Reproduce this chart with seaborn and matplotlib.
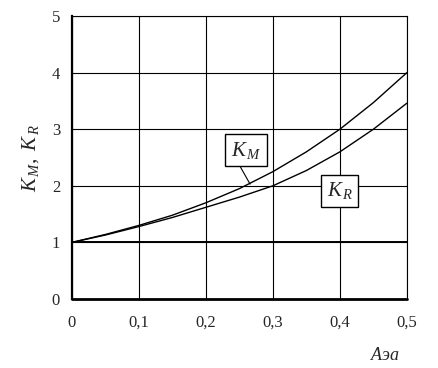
import matplotlib
matplotlib.use('Agg')
import matplotlib.pyplot as plt
import pandas as pd
import seaborn as sns

# Aэа values and curves
aea = [0.0, 0.05, 0.1, 0.15, 0.2, 0.25, 0.3, 0.35, 0.4, 0.45, 0.5]
k_m = [1.0, 1.14, 1.30, 1.48, 1.70, 1.95, 2.25, 2.60, 3.00, 3.47, 4.00]
k_r = [1.0, 1.13, 1.28, 1.44, 1.62, 1.80, 2.00, 2.27, 2.60, 3.00, 3.46]
x_ticks = [0, 0.1, 0.2, 0.3, 0.4, 0.5]
x_tick_labels = ['0', '0,1', '0,2', '0,3', '0,4', '0,5']
y_ticks = [0, 1, 2, 3, 4, 5]

sns.set_style('white')
plt.rcParams['font.family'] = ['Liberation Serif', 'DejaVu Serif']
plt.rcParams['mathtext.fontset'] = 'custom'
plt.rcParams['mathtext.it'] = 'Liberation Serif:italic'
plt.rcParams['mathtext.rm'] = 'Liberation Serif'

df = pd.DataFrame({'aea': aea, 'K_M': k_m, 'K_R': k_r})

fig = plt.figure(figsize=(4.38, 3.68), dpi=100)
ax = fig.add_axes([0.164, 0.1875, 0.765, 0.769])

sns.lineplot(data=df, x='aea', y='K_M', ax=ax, color='black', lw=1.0)
sns.lineplot(data=df, x='aea', y='K_R', ax=ax, color='black', lw=1.0)
ax.axhline(1, color='black', lw=1.4)
ax.axhline(0, color='black', lw=2.0, clip_on=False)

ax.set_xlim(0, 0.5)
ax.set_ylim(0, 5)
ax.set_xticks(x_ticks)
ax.set_xticklabels(x_tick_labels, fontsize=12)
ax.set_yticks(y_ticks)
ax.set_yticklabels([str(v) for v in y_ticks], fontsize=12)
ax.grid(True, color='black', lw=0.8)
ax.tick_params(direction='inout', length=5, width=1, color='black')
ax.tick_params(axis='x', pad=9)
ax.tick_params(axis='y', pad=6)
for side in ['top', 'right']:
    ax.spines[side].set_linewidth(0.8)
    ax.spines[side].set_color('black')
ax.spines['left'].set_linewidth(1.6)
ax.spines['left'].set_color('black')
ax.spines['bottom'].set_visible(False)

ax.set_xlabel('')
ax.set_ylabel(r'$K_{\,M},\ K_{\,R}$', fontsize=15, labelpad=8)
ax.text(0.49, -0.85, r'$A$эа', fontsize=13, style='italic', ha='right',
        va='top', transform=ax.transData, clip_on=False)

box = dict(boxstyle='square,pad=0.25', fc='white', ec='black', lw=1.0)
ax.annotate(r'$K_{\,M}$', xy=(0.266, 2.03), xytext=(0.26, 2.63), fontsize=15,
            ha='center', va='center', bbox=box,
            arrowprops=dict(arrowstyle='-', color='black', lw=0.8,
                            shrinkA=0, shrinkB=0, relpos=(0.2, 0)))
ax.text(0.40, 1.91, r'$K_{\,R}$', fontsize=15, ha='center', va='center', bbox=box)

plt.savefig('out.png', dpi=100)
